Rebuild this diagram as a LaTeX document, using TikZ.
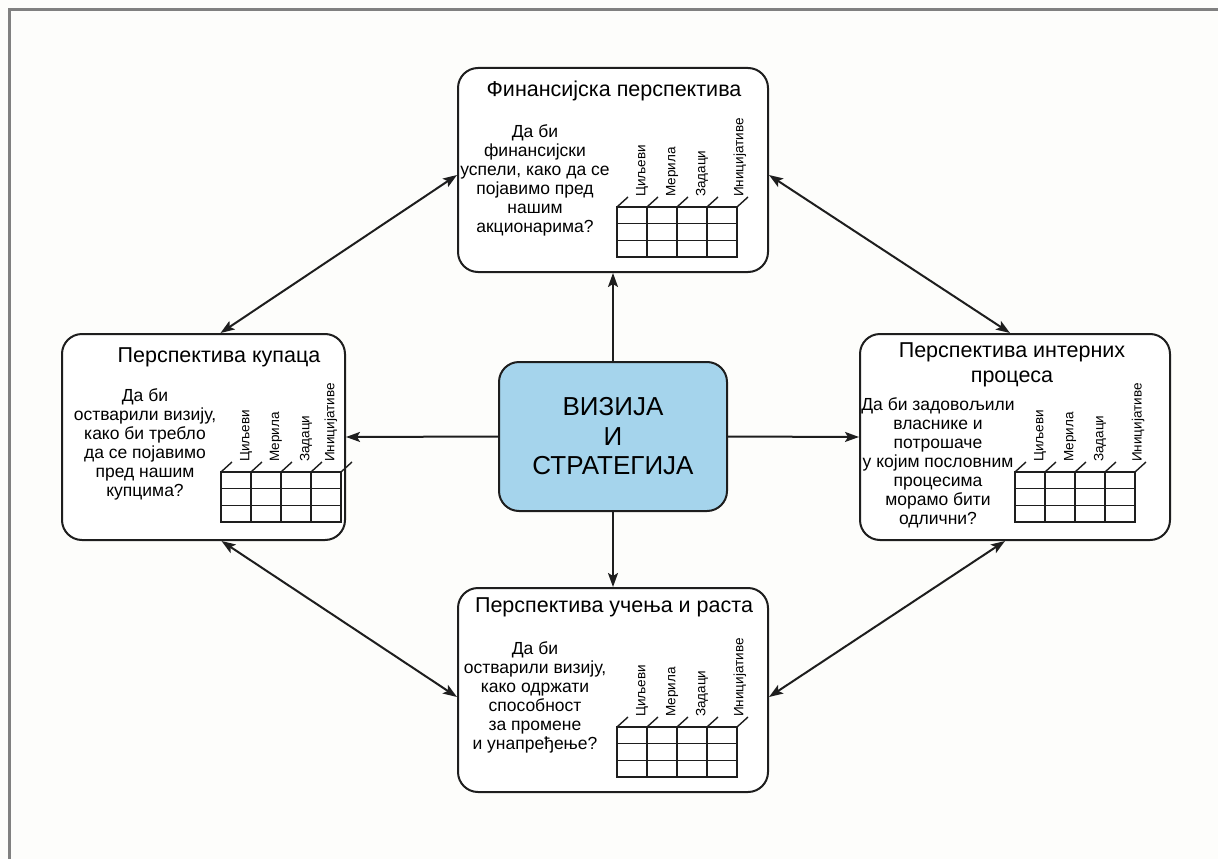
\documentclass[tikz,border=0pt]{standalone}
\usepackage{fontspec}
\setmainfont{Liberation Sans}
\usetikzlibrary{arrows.meta,calc}
\definecolor{ink}{RGB}{30,30,30}
\definecolor{visfill}{RGB}{165,212,236}
\definecolor{framegray}{RGB}{128,128,128}
\definecolor{paper}{RGB}{253,253,251}

\begin{document}
\begin{tikzpicture}[x=1pt,y=-1pt,
  persp/.style={draw=ink, line width=2pt, rounded corners=20pt, fill=white, inner sep=0pt},
  vision/.style={draw=ink, line width=2pt, rounded corners=20pt, fill=visfill, inner sep=0pt,
    minimum width=228pt, minimum height=149pt, align=center,
    font=\fontsize{26}{29.5}\selectfont},
  ptitle/.style={inner sep=0pt, align=center, font=\fontsize{21.5}{25}\selectfont},
  question/.style={inner sep=0pt, align=center, font=\fontsize{17.5}{19}\selectfont},
  lbl/.style={rotate=90, anchor=west, inner sep=0pt, font=\fontsize{13.5}{15}\selectfont},
  tbl/.style={ink, line width=1.4pt},
  conn/.style={ink, line width=2pt, -{Stealth[length=14pt,width=10pt,inset=3pt]}},
  twoway/.style={ink, line width=2pt,
    {Stealth[length=14pt,width=10pt,inset=3pt]}-{Stealth[length=14pt,width=10pt,inset=3pt]}},
  lastlabel/.store in=\lastlabelx, lastlabel=123,
  bsc/.pic={
    \draw[tbl] (0,0) rectangle (120,50);
    \foreach \c in {30,60,90} \draw[tbl] (\c,0) -- (\c,50);
    \foreach \r in {16.67,33.33} \draw[tbl] (0,\r) -- (120,\r);
    \foreach \c in {0,30,60,90,120} \draw[tbl] (\c,0) -- ++(11,-10);
    \node[lbl] (-goals) at (25,-10) {Циљеви};
    \node[lbl] (-measures) at (55,-10) {Мерила};
    \node[lbl] (-targets) at (85,-10) {Задаци};
    \node[lbl] (-initiatives) at (\lastlabelx,-10) {Иницијативе};
  }
]
\useasboundingbox (0,0) rectangle (1218,859);
\fill[paper] (0,0) rectangle (1218,859);
\draw[framegray, line width=3pt] (9.5,859) -- (9.5,9.5) -- (1218,9.5);

% the four perspectives
\node[persp, minimum width=310pt, minimum height=204pt] (fin) at (613,170) {};
\node[persp, minimum width=283pt, minimum height=206pt] (cust) at (203.5,437) {};
\node[persp, minimum width=310pt, minimum height=206pt] (int) at (1015,437) {};
\node[persp, minimum width=310pt, minimum height=204pt] (learn) at (613,690) {};

% vision and strategy in the middle
\node[vision] (vis) at (613,436.5) {ВИЗИЈА\\И\\СТРАТЕГИЈА};

% financial perspective
\node[ptitle] (fint) at (614,91) {Финансијска перспектива};
\node[question] (finq) at (535,180) {Да би\\финансијски\\успели, како да се\\појавимо пред\\нашим\\акционарима?};
\pic (fintab) at (617,207) {bsc};

% customer perspective (the box is narrower, so its last heading sits inside)
\node[ptitle] (custt) at (219,357) {Перспектива купаца};
\node[question] (custq) at (145,444) {Да би\\остварили визију,\\како би требло\\да се појавимо\\пред нашим\\купцима?};
\pic[lastlabel=110] (custtab) at (221,472) {bsc};

% internal process perspective
\node[ptitle] (intt) at (1012,365) {Перспектива интерних\\процеса};
\node[question] (intq) at (938,463) {Да би задовољили\\власнике и\\потрошаче\\у којим пословним\\процесима\\морамо бити\\одлични?};
\pic (inttab) at (1015,472) {bsc};

% learning and growth perspective
\node[ptitle] (learnt) at (614,607) {Перспектива учења и раста};
\node[question] (learnq) at (535,697) {Да би\\остварили визију,\\како одржати\\способност\\за промене\\и унапређење?};
\pic (learntab) at (617,727) {bsc};

% connectors
\draw[conn] (vis.north) -- (fin.south);
\draw[conn] (vis.south) -- (learn.north);
\draw[conn] (vis.west) -- (cust.east);
\draw[conn] (vis.east) -- (int.west);
\draw[twoway] ([yshift=-5pt]fin.west) -- ([xshift=17pt]cust.north);
\draw[twoway] ([yshift=-5pt]fin.east) -- ([xshift=-5pt]int.north);
\draw[twoway] ([xshift=18pt]cust.south) -- ([yshift=-7pt]learn.west);
\draw[twoway] ([xshift=-10pt]int.south) -- ([yshift=-7pt]learn.east);
\end{tikzpicture}
\end{document}
